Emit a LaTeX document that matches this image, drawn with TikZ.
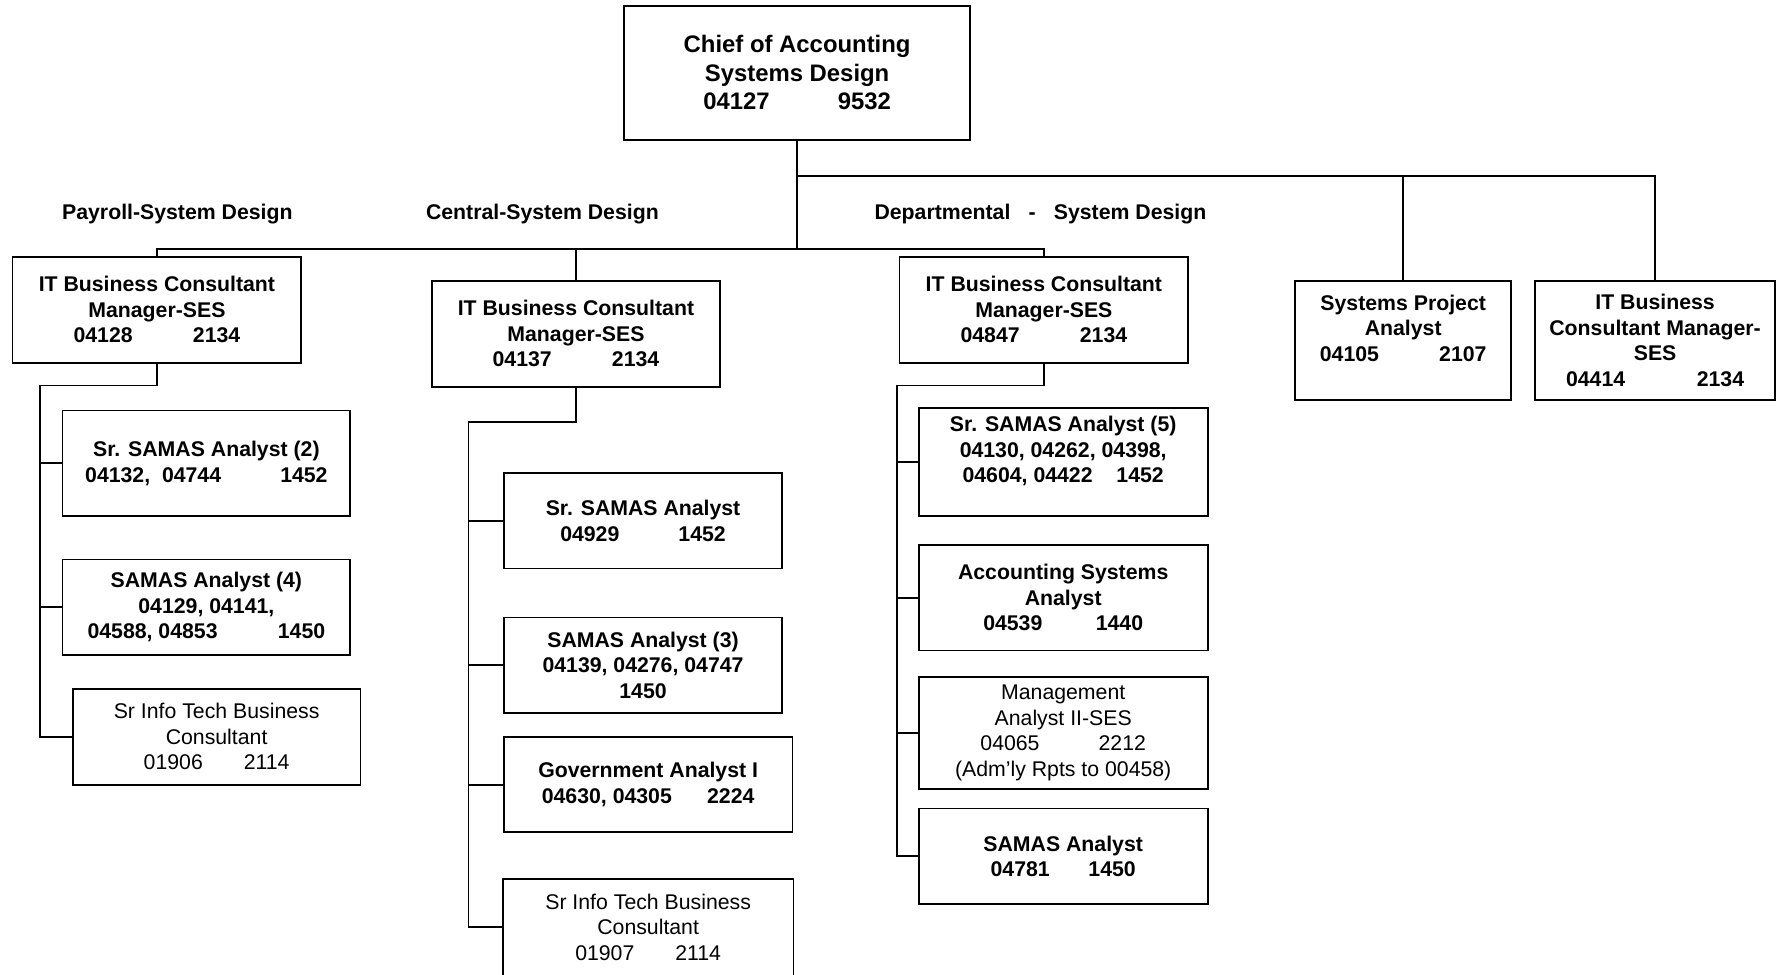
\documentclass[tikz,border=0pt]{standalone}
\usepackage{fontspec}
\setmainfont{Liberation Sans}
\begin{document}
\begin{tikzpicture}[x=1pt,y=-1pt,
  line width=1.7pt,
  box/.style={draw, line width=1.6pt, inner sep=0pt, align=center,
    font=\fontsize{18.7}{22.4}\selectfont\bfseries},
  plainbox/.style={box, font=\fontsize{18.7}{22.4}\selectfont},
  chiefbox/.style={box, font=\fontsize{21}{25.2}\selectfont\bfseries},
  section/.style={inner sep=0pt, font=\fontsize{18.7}{22.4}\selectfont\bfseries}]
\clip (0,0) rectangle (1568,857);
\fill[white] (0,0) rectangle (1568,857);

% top of the chart
\node[chiefbox, minimum width=304pt, minimum height=118pt] (chief) at (701,64)
  {Chief of Accounting\\Systems Design\\04127\hspace{60pt}9532};

% section headings
\node[section] (hpay) at (156,188) {Payroll-System Design};
\node[section] (hcen) at (477,188) {Central-System Design};
\node[section] (hdep) at (915,188) {Departmental\hspace{16pt}-\hspace{16pt}System Design};

% second level
\node[box, minimum width=254pt, minimum height=93pt] (p0) at (138,272.5)
  {IT Business Consultant\\Manager-SES\\04128\hspace{53pt}2134};
\node[box, minimum width=253pt, minimum height=93pt] (c0) at (506.5,293.5)
  {IT Business Consultant\\Manager-SES\\04137\hspace{53pt}2134};
\node[box, minimum width=254pt, minimum height=93pt] (d0) at (918,272.5)
  {IT Business Consultant\\Manager-SES\\04847\hspace{53pt}2134};
\node[box, minimum width=190pt, minimum height=105pt] (spa) at (1234,299.5)
  {Systems Project\\Analyst\\04105\hspace{53pt}2107\\~};
\node[box, minimum width=211pt, minimum height=105pt] (itb) at (1455.5,299.5)
  {IT Business\\Consultant Manager-\\SES\\04414\hspace{63pt}2134};

% payroll column
\node[box, minimum width=253pt, minimum height=93pt] (p1) at (181.5,407.5)
  {Sr. SAMAS Analyst (2)\\04132,\ \ 04744\hspace{52pt}1452};
\node[box, minimum width=253pt, minimum height=84pt] (p2) at (181.5,534)
  {SAMAS Analyst (4)\\04129, 04141,\\04588, 04853\hspace{53pt}1450};
\node[plainbox, minimum width=253pt, minimum height=84pt] (p3) at (190.5,648)
  {Sr Info Tech Business\\Consultant\\01906\hspace{36pt}2114};

% central column
\node[box, minimum width=245pt, minimum height=84pt] (c1) at (565.5,458)
  {Sr. SAMAS Analyst\\04929\hspace{52pt}1452};
\node[box, minimum width=245pt, minimum height=84pt] (c2) at (565.5,585)
  {SAMAS Analyst (3)\\04139, 04276, 04747\\1450};
\node[box, minimum width=254pt, minimum height=84pt] (c3) at (570,690)
  {Government Analyst I\\04630, 04305\hspace{31pt}2224};
% last box runs off the lower edge: only its top and sides are drawn
\node[plainbox, draw=none, minimum width=254pt, minimum height=84pt] (c4) at (570,815.5)
  {Sr Info Tech Business\\Consultant\\01907\hspace{36pt}2114};
\draw[line width=1.6pt] ([yshift=-12pt]c4.south west) -- (c4.north west)
  -- (c4.north east) -- ([yshift=-12pt]c4.south east);

% departmental column
\node[box, minimum width=254pt, minimum height=95pt] (d1) at (935,406.5)
  {Sr. SAMAS Analyst (5)\\04130, 04262, 04398,\\04604, 04422\hspace{21pt}1452\\~};
\node[box, minimum width=254pt, minimum height=93pt] (d2) at (935,525.5)
  {Accounting Systems\\Analyst\\04539\hspace{47pt}1440};
\node[plainbox, minimum width=254pt, minimum height=99pt] (d3) at (935,644.5)
  {Management\\Analyst II-SES\\04065\hspace{52pt}2212\\(Adm’ly Rpts to 00458)};
\node[box, minimum width=254pt, minimum height=84pt] (d4) at (935,753)
  {SAMAS Analyst\\04781\hspace{34pt}1450};

% connector junctions
\coordinate (topbar) at (701,155);
\coordinate (bar) at (701,219);
\coordinate (pj) at (138,339);
\coordinate (pt) at (35,339);
\coordinate (cj) at (506.5,371);
\coordinate (ct) at (412,371);
\coordinate (dj) at (918,339);
\coordinate (dt) at (789,339);

% upper connectors
\draw (chief.south) -- (bar);
\draw (chief.south |- topbar) -- (itb.north |- topbar) -- (itb.north);
\draw (spa.north |- topbar) -- (spa.north);
\draw (p0.north) -- (p0.north |- bar) -- (d0.north |- bar) -- (d0.north);
\draw (c0.north |- bar) -- (c0.north);

% payroll connectors
\draw (p0.south) -- (pj) -- (pt) -- (pt |- p3.west) -- (p3.west);
\draw (pt |- p1.west) -- (p1.west);
\draw (pt |- p2.west) -- (p2.west);

% central connectors
\draw (c0.south) -- (cj) -- (ct) -- (ct |- c4.west) -- (c4.west);
\draw (ct |- c1.west) -- (c1.west);
\draw (ct |- c2.west) -- (c2.west);
\draw (ct |- c3.west) -- (c3.west);

% departmental connectors
\draw (d0.south) -- (dj) -- (dt) -- (dt |- d4.west) -- (d4.west);
\draw (dt |- d1.west) -- (d1.west);
\draw (dt |- d2.west) -- (d2.west);
\draw (dt |- d3.west) -- (d3.west);
\end{tikzpicture}
\end{document}
